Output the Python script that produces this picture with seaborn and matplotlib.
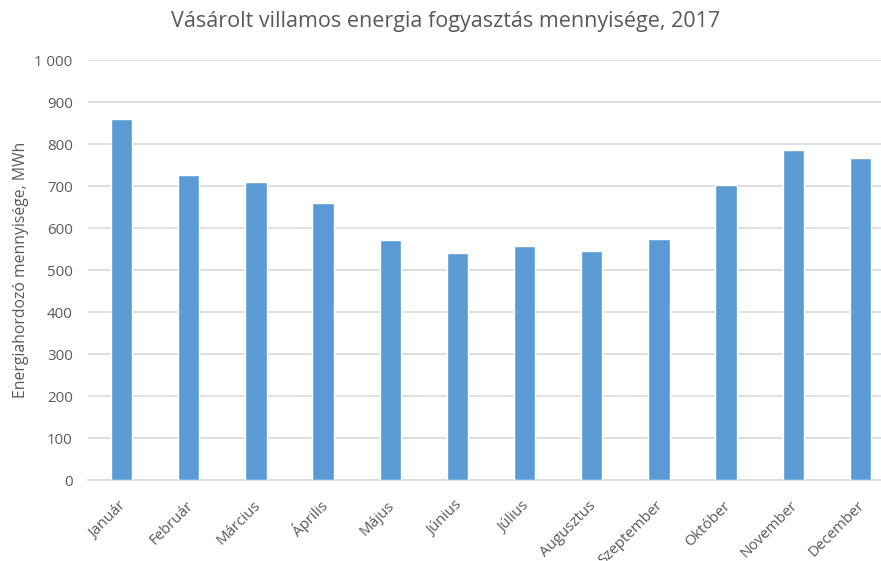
import matplotlib
matplotlib.use("Agg")
import matplotlib.pyplot as plt
import matplotlib.transforms as mtransforms
import seaborn as sns
import pandas as pd

# Monthly purchased electricity, MWh
months = ["Január", "Február", "Március", "Április", "Május", "Június",
          "Július", "Augusztus", "Szeptember", "Október", "November", "December"]
consumption = [859, 727, 710, 659, 571, 540, 558, 545, 575, 702, 786, 766]
y_ticks = [0, 100, 200, 300, 400, 500, 600, 700, 800, 900, 1000]
y_tick_labels = ["0", "100", "200", "300", "400", "500", "600", "700", "800", "900", "1\u00a0000"]

TITLE = "Vásárolt villamos energia fogyasztás mennyisége, 2017"
Y_LABEL = "Energiahordozó mennyisége, MWh"
BAR_COLOR = "#5B9BD5"
TEXT_COLOR = "#595959"
GRID_COLOR = "#D9D9D9"

sns.set_theme(style="white")
plt.rcParams["font.family"] = ["Open Sans", "DejaVu Sans"]

df = pd.DataFrame({"month": months, "value": consumption})

W, H = 881, 561
fig = plt.figure(figsize=(W / 100, H / 100), dpi=100)
# plot area: x from 88px to ~894px (reference is cropped on the right), y from 60px to 480px
ax = fig.add_axes([88 / W, (H - 480) / H, 806 / W, 420 / H])

sns.barplot(data=df, x="month", y="value", color=BAR_COLOR, width=0.32,
            saturation=1, ax=ax, zorder=3)

ax.set_ylim(0, 1000)
ax.set_xlim(-0.5, 11.5)
ax.set_yticks(y_ticks)
ax.set_yticklabels(y_tick_labels)
ax.yaxis.grid(True, color=GRID_COLOR, linewidth=1.2, zorder=0)
ax.set_axisbelow(True)

for side in ["top", "right", "left"]:
    ax.spines[side].set_visible(False)
ax.spines["bottom"].set_color(GRID_COLOR)
ax.spines["bottom"].set_linewidth(1.2)

ax.tick_params(axis="both", length=0, colors=TEXT_COLOR, labelsize=10.8)
ax.tick_params(axis="y", pad=11)
ax.tick_params(axis="x", pad=17)
# nudge rotated month labels so their ends sit just right of the bars
shift = mtransforms.ScaledTranslation(2 / 100, 0, fig.dpi_scale_trans)
for lbl in ax.get_xticklabels():
    lbl.set_rotation(45)
    lbl.set_ha("right")
    lbl.set_va("center")
    lbl.set_rotation_mode("anchor")
    lbl.set_transform(lbl.get_transform() + shift)

ax.set_xlabel("")
ax.set_ylabel(Y_LABEL, color=TEXT_COLOR, fontsize=11.3, labelpad=4)

fig.text(446 / W, 1 - 22 / H, TITLE, ha="center", va="center",
         fontsize=15.5, color=TEXT_COLOR)

fig.savefig("out.png", dpi=100)
